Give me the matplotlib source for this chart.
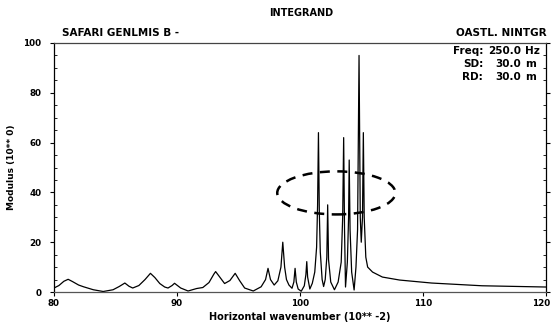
import numpy as np
import matplotlib
matplotlib.use("Agg")
import matplotlib.pyplot as plt
from matplotlib.patches import Ellipse
from matplotlib.ticker import MultipleLocator
from matplotlib.transforms import ScaledTranslation

# horizontal wavenumber (10**-2) and modulus
wavenumber = [80.0, 80.4, 80.8, 81.15, 81.5, 82.0, 82.4, 83.2, 84.0, 84.8,
              85.3, 85.76, 86.1, 86.4, 86.9, 87.4, 87.84, 88.2, 88.6, 89.0,
              89.27, 89.6, 89.8, 90.3, 90.9, 91.6, 92.1, 92.6, 93.0, 93.14,
              93.4, 93.87, 94.3, 94.73, 95.1, 95.5, 96.2, 96.84, 97.2, 97.4,
              97.6, 97.9, 98.2, 98.45, 98.6, 98.75, 98.9, 99.1, 99.35, 99.5,
              99.6, 99.7, 99.85, 100.1, 100.35, 100.48, 100.55, 100.62, 100.8, 101.0,
              101.2, 101.35, 101.43, 101.5, 101.57, 101.65, 101.8, 101.92, 102.05, 102.18,
              102.25, 102.32, 102.5, 102.8, 103.1, 103.35, 103.47, 103.55, 103.62, 103.7,
              103.85, 103.95, 104.0, 104.07, 104.2, 104.4, 104.55, 104.68, 104.8, 104.9,
              104.98, 105.08, 105.15, 105.22, 105.35, 105.5, 105.9, 106.7, 108.1, 110.7,
              114.8, 120.0]
modulus = [1.6, 2.6, 4.3, 5.1, 4.2, 2.8, 2.1, 0.9, 0.2, 0.9,
           2.2, 3.6, 2.3, 1.6, 2.6, 5.0, 7.5, 5.8, 3.4, 2.0,
           1.6, 2.6, 3.5, 1.6, 0.4, 1.4, 1.8, 3.8, 7.2, 8.2,
           6.5, 3.4, 4.6, 7.5, 4.5, 1.6, 0.4, 2.1, 5.0, 9.5,
           5.0, 2.8, 4.5, 10.0, 20.0, 10.0, 5.0, 2.8, 1.5, 4.0,
           9.5, 4.0, 1.2, 0.3, 2.5, 7.0, 12.2, 6.0, 1.2, 3.5,
           8.0, 18.0, 35.0, 64.0, 32.0, 16.0, 5.0, 2.2, 5.0, 14.0,
           35.0, 13.0, 4.0, 0.9, 4.0, 12.0, 30.0, 62.0, 25.0, 2.0,
           12.0, 30.0, 53.0, 25.0, 8.0, 0.8, 10.0, 25.0, 95.0, 30.0,
           20.0, 30.0, 64.0, 30.0, 14.0, 10.0, 8.0, 6.0, 4.8, 3.6,
           2.5, 2.0]

x_ticks = [80, 90, 100, 110, 120]
y_ticks = [0, 20, 40, 60, 80, 100]

plt.rcParams['font.family'] = 'DejaVu Sans'
plt.rcParams['font.weight'] = 'bold'

fig = plt.figure(figsize=(5.53, 3.25), dpi=100)
ax = fig.add_axes([54/553, 1 - 292/325, 492/553, 249/325])

ax.plot(wavenumber, modulus, color='black', linewidth=0.9)
ax.add_patch(Ellipse((102.95, 39.8), 9.6, 17.3, fill=False, edgecolor='black',
                     linestyle=(0, (4, 3)), linewidth=1.8))

ax.set_xlim(80, 120)
ax.set_ylim(0, 100)
ax.set_xticks(x_ticks)
ax.set_yticks(y_ticks)
ax.yaxis.set_minor_locator(MultipleLocator(5))
ax.tick_params(axis='both', which='major', labelsize=6.3, length=3, width=0.8, pad=2)
ax.tick_params(axis='y', which='minor', length=2, width=0.6, right=True, direction='in')
ax.tick_params(axis='y', which='major', right=True, pad=6)
for s in ax.spines.values():
    s.set_linewidth(0.9)
ax.spines['bottom'].set_color('#555555')
ax.spines['top'].set_color('#444444')

# last x label sits at the very edge, nudge it in a bit
last = ax.get_xticklabels()[-1]
last.set_transform(last.get_transform() + ScaledTranslation(-0.05, 0, fig.dpi_scale_trans))

ax.set_xlabel('Horizontal wavenumber (10** -2)', fontsize=7, fontweight='bold', labelpad=3)
ax.set_ylabel('Modulus (10** 0)', fontsize=6.5, fontweight='bold', labelpad=5)

fig.text(301/553, 1 - 13/325, 'INTEGRAND', ha='center', va='center', fontsize=7, fontweight='bold')
fig.text(62/553, 1 - 33/325, 'SAFARI GENLMIS B -', ha='left', va='center', fontsize=7.5, fontweight='bold')
fig.text(547/553, 1 - 33/325, 'OASTL. NINTGR', ha='right', va='center', fontsize=7.5, fontweight='bold')

rows = [('Freq:', '250.0', 'Hz'), ('SD:', '30.0', 'm'), ('RD:', '30.0', 'm')]
for i, (lab, val, unit) in enumerate(rows):
    yy = 1 - (51 + 13 * i) / 325
    fig.text(483/553, yy, lab, ha='right', va='center', fontsize=7.5, fontweight='bold')
    fig.text(521/553, yy, val, ha='right', va='center', fontsize=7.5, fontweight='bold')
    fig.text(525/553, yy, unit, ha='left', va='center', fontsize=7.5, fontweight='bold')

fig.savefig('out.png', dpi=100)
